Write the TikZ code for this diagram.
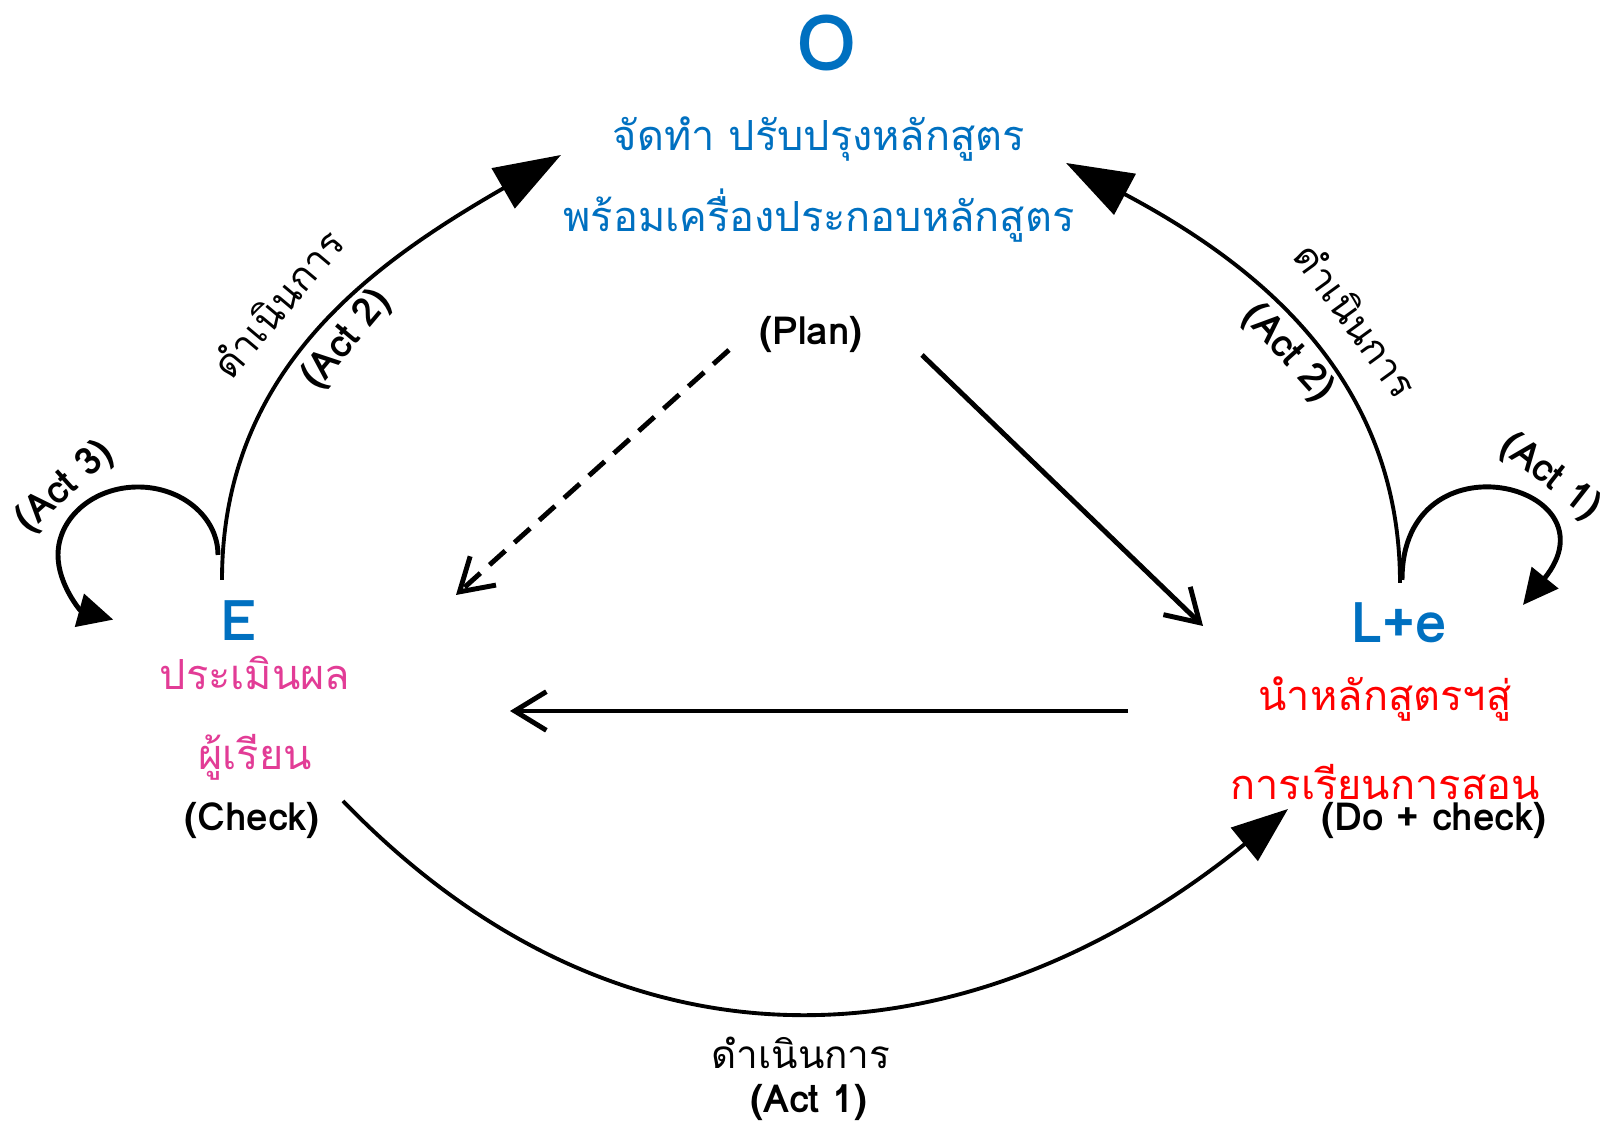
\documentclass[tikz,border=0pt]{standalone}
\usepackage{fontspec}
\setmainfont{Loma}[Script=Thai]
\usepackage{tikz}
\usetikzlibrary{arrows.meta}
\definecolor{pdcablue}{RGB}{0,112,192}
\definecolor{pdcapink}{RGB}{226,60,150}
\definecolor{pdcared}{RGB}{255,0,0}

\begin{document}
\begin{tikzpicture}[x=0.01cm, y=0.01cm,
  letter/.style={text=pdcablue, font=\fontsize{22}{24}\selectfont\bfseries, inner sep=0pt},
  smallletter/.style={text=pdcablue, font=\fontsize{16}{18}\selectfont\bfseries, inner sep=0pt},
  topline/.style={text=pdcablue, font=\fontsize{11.8}{14}\selectfont, inner sep=0pt},
  pinkline/.style={text=pdcapink, font=\fontsize{11.8}{14}\selectfont, inner sep=0pt},
  redline/.style={text=pdcared, font=\fontsize{11.8}{14}\selectfont, inner sep=0pt},
  tag/.style={font=\fontsize{11}{13}\selectfont\bfseries, inner sep=0pt},
  actlbl/.style={font=\fontsize{11}{13}\selectfont\bfseries, inner sep=0pt},
  thlbl/.style={font=\fontsize{11}{13}\selectfont, inner sep=0pt},
  bigarc/.style={line width=1.1pt, -{Triangle[length=19pt, width=13pt]}},
  midarc/.style={line width=1.1pt, -{Triangle[length=16pt, width=12pt]}},
  selfloop/.style={line width=1.4pt, -{Triangle[length=10pt, width=9.5pt]}},
  barb/.style={line width=1.4pt, -{Straight Barb[length=9pt, width=11pt]}}]
  \useasboundingbox (0,0) rectangle (1615,1125);

  % O (plan)
  \node[letter] (oLetter) at (827,1082) {O};
  \node[topline] (oLine1) at (819,986) {จัดทำ ปรับปรุงหลักสูตร};
  \node[topline] (oLine2) at (819,909) {พร้อมเครื่องประกอบหลักสูตร};
  \node[tag] (plan) at (811,790) {(Plan)};

  % E (check)
  \node[smallletter] (eLetter) at (239,504) {E};
  \node[pinkline] (eLine1) at (255,452) {ประเมินผล};
  \node[pinkline] (eLine2) at (255,368) {ผู้เรียน};
  \node[tag] (check) at (252,304) {(Check)};

  % L+e (do)
  \node[smallletter] (lLetter) at (1399,502) {L+e};
  \node[redline] (lLine1) at (1385,426) {นำหลักสูตรฯสู่};
  \node[redline] (lLine2) at (1385,343) {การเรียนการสอน};
  \node[tag] (docheck) at (1434,304) {(Do + check)};

  % arrow ends
  \coordinate (dashS) at (729,775);
  \coordinate (dashE) at (456,530);
  \coordinate (diagS) at (922,770);
  \coordinate (diagE) at (1203,499);
  \coordinate (horS) at (1128,414);
  \coordinate (horE) at (510,414);
  \coordinate (eTop) at (222,545);
  \coordinate (eLoop) at (218,570);
  \coordinate (lTop) at (1400,542);
  \coordinate (lLoop) at (1402,545);
  \coordinate (lLoopEnd) at (1523,520);
  \coordinate (oLeft) at (561,970);
  \coordinate (oRight) at (1066,962);
  \coordinate (checkEnd) at (343,324);
  \coordinate (doEnd) at (1288,316);

  % inner triangle
  \draw[barb, dash pattern=on 6pt off 3.5pt] (dashS) -- (dashE);
  \draw[barb] (diagS) -- (diagE);
  \draw[barb] (horS) -- (horE);

  % outer arcs
  \draw[bigarc] (eTop) to[out=90, in=210] (oLeft);
  \draw[bigarc] (lTop) to[out=90, in=-28] (oRight);
  \draw[midarc] (checkEnd) to[out=-46, in=219, looseness=1.1] (doEnd);

  % self loops
  \draw[selfloop] (eLoop) arc[start angle=0, end angle=252, x radius=80, y radius=68];
  \draw[selfloop] (lLoop) .. controls (1402,695) and (1620,640) .. (lLoopEnd);

  % labels
  \node[thlbl, rotate=50] (actL1) at (277,822) {ดำเนินการ};
  \node[actlbl, rotate=50] (actL2) at (347,785) {(Act 2)};
  \node[actlbl, rotate=42] (act3) at (65,638) {(Act 3)};
  \node[thlbl, rotate=-54] (actR1) at (1357,805) {ดำเนินการ};
  \node[actlbl, rotate=-48] (actR2) at (1288,772) {(Act 2)};
  \node[actlbl, rotate=-38] (act1r) at (1550,648) {(Act 1)};
  \node[thlbl] (actB1) at (801,72) {ดำเนินการ};
  \node[actlbl] (actB2) at (809,23) {(Act 1)};
\end{tikzpicture}
\end{document}
